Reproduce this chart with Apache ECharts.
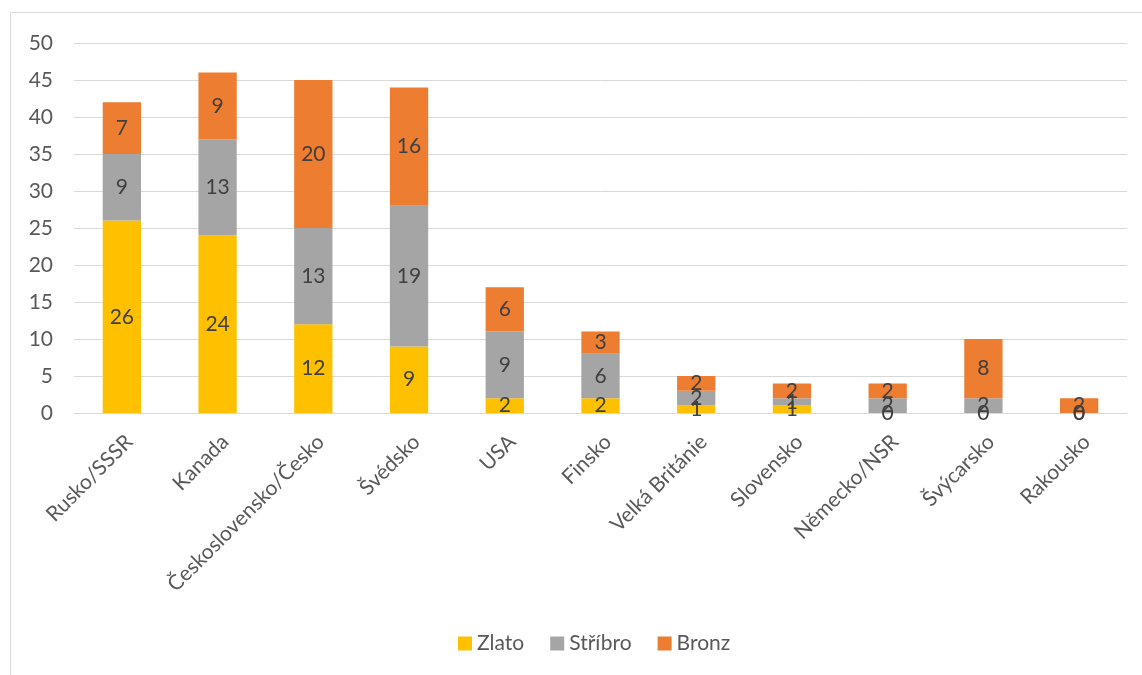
<!DOCTYPE html>
<html><head><meta charset="utf-8">
<script src="https://cdn.jsdelivr.net/npm/echarts@6/dist/echarts.min.js"></script>
<style>html,body{margin:0;padding:0;background:#fff}#c{width:1142px;height:675px}</style>
</head><body><div id="c"></div>
<script>
const categories = ['Rusko/SSSR','Kanada','Československo/Česko','Švédsko','USA','Finsko','Velká Británie','Slovensko','Německo/NSR','Švýcarsko','Rakousko'];
const zlato = [26,24,12,9,2,2,1,1,0,0,0];
const stribro = [9,13,13,19,9,6,2,1,2,2,0];
const bronz = [7,9,20,16,6,3,2,2,2,8,2];
const yTicks = {min:0,max:50,interval:5};
const FONT = 'Lato';
const FS = 21;
const chart = echarts.init(document.getElementById('c'));
function ser(name, data, color){
  return {name, type:'bar', stack:'m', data, barWidth:'40%',
    itemStyle:{color},
    label:{show:true, position:'inside', color:'#404040', fontSize:FS, fontFamily:FONT}};
}
chart.setOption({
  animation:false,
  textStyle:{fontFamily:FONT},
  graphic:[{type:'rect', shape:{x:10.5,y:12.5,width:1140,height:680}, style:{fill:'none',stroke:'#d9d9d9',lineWidth:1}, silent:true}],
  grid:{left:74,right:15,top:43,bottom:262,containLabel:false},
  legend:{bottom:16,left:453,itemWidth:14,itemHeight:14,itemGap:26,icon:'rect',
    textStyle:{fontSize:FS,color:'#595959',fontFamily:FONT}},
  xAxis:{type:'category',data:categories,
    axisLine:{lineStyle:{color:'#d9d9d9'}},axisTick:{show:false},
    axisLabel:{rotate:45,fontSize:FS,color:'#595959',fontFamily:FONT,margin:18,interval:0,verticalAlign:'top',align:'right'}},
  yAxis:{type:'value',min:yTicks.min,max:yTicks.max,interval:yTicks.interval,
    axisLine:{show:false},axisTick:{show:false},
    splitLine:{lineStyle:{color:'#d9d9d9',width:1}},
    axisLabel:{fontSize:FS,color:'#595959',fontFamily:FONT,margin:21}},
  series:[ser('Zlato',zlato,'#FFC000'),ser('Stříbro',stribro,'#A5A5A5'),ser('Bronz',bronz,'#ED7D31')]
});
</script></body></html>
